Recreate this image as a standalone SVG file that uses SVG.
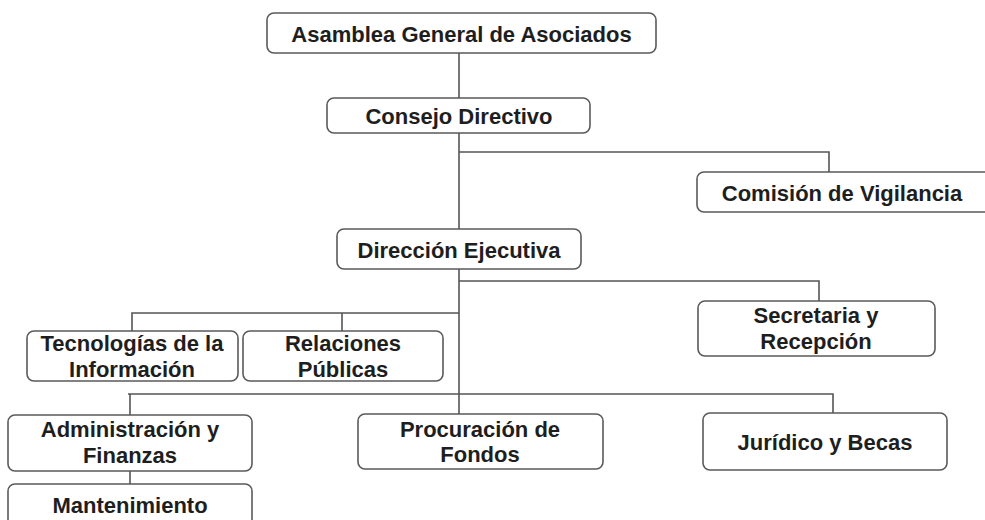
<svg xmlns="http://www.w3.org/2000/svg" width="985" height="520" viewBox="0 0 985 520">
<style>
.box{fill:#fff;stroke:#5a5a5a;stroke-width:1.6}
.t{font-family:"Liberation Sans",Arial,sans-serif;font-weight:bold;font-size:22px;fill:#1e1e1e;text-anchor:middle}
.c{fill:none;stroke:#555;stroke-width:1.6}
</style>
<rect width="985" height="520" fill="#fff"/>
<g id="connectors">
<path class="c" d="M459 53V422"/>
<path class="c" d="M459 152H829V172"/>
<path class="c" d="M459 281H819V301"/>
<path class="c" d="M459 313H132V331M342 313V331"/>
<path class="c" d="M128 394H833V414M130 394V415"/>
<path class="c" d="M130 471V484"/>
</g>
<g id="asamblea"><rect class="box" x="267" y="13" width="389" height="40" rx="7"/><text class="t" x="461.5" y="42">Asamblea General de Asociados</text></g>
<g id="consejo"><rect class="box" x="327" y="98" width="263" height="35" rx="7"/><text class="t" x="459" y="124">Consejo Directivo</text></g>
<g id="comision"><rect class="box" x="697" y="172" width="300" height="40" rx="7"/><text class="t" x="842" y="201">Comisión de Vigilancia</text></g>
<g id="direccion"><rect class="box" x="337" y="229" width="244" height="40" rx="7"/><text class="t" x="459" y="258">Dirección Ejecutiva</text></g>
<g id="secretaria"><rect class="box" x="698" y="301" width="237" height="55" rx="7"/><text class="t" x="816" y="323">Secretaria y</text><text class="t" x="816" y="349">Recepción</text></g>
<g id="tecnologias"><rect class="box" x="27" y="331" width="211" height="50" rx="7"/><text class="t" x="132" y="351">Tecnologías de la</text><text class="t" x="132" y="377">Información</text></g>
<g id="relaciones"><rect class="box" x="243" y="331" width="200" height="50" rx="7"/><text class="t" x="343" y="351">Relaciones</text><text class="t" x="343" y="377">Públicas</text></g>
<g id="administracion"><rect class="box" x="8" y="415" width="244" height="56" rx="7"/><text class="t" x="130" y="437">Administración y</text><text class="t" x="130" y="463">Finanzas</text></g>
<g id="procuracion"><rect class="box" x="358" y="414" width="245" height="55" rx="7"/><text class="t" x="480" y="437">Procuración de</text><text class="t" x="480" y="462">Fondos</text></g>
<g id="juridico"><rect class="box" x="703" y="413" width="244" height="57" rx="7"/><text class="t" x="825" y="450">Jurídico y Becas</text></g>
<g id="mantenimiento"><rect class="box" x="8" y="484" width="244" height="50" rx="7"/><text class="t" x="130" y="513">Mantenimiento</text></g>
</svg>
